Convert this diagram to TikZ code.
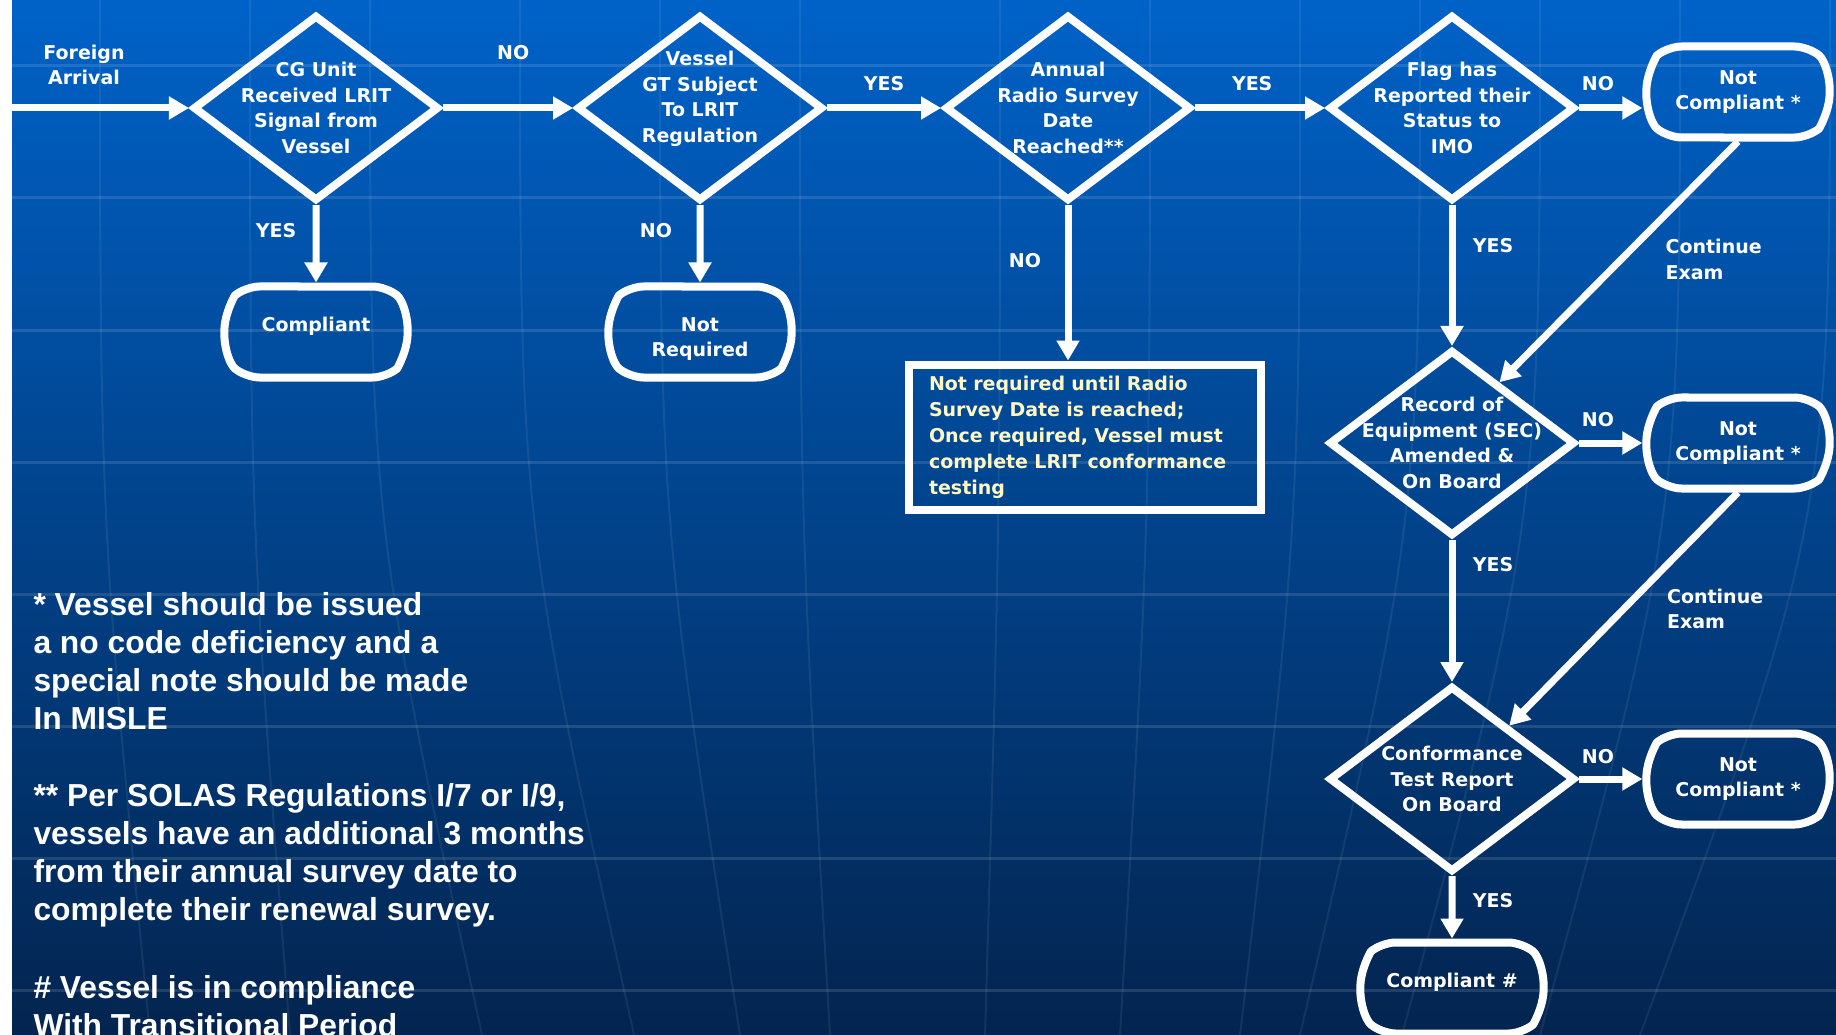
\documentclass[tikz,border=0pt]{standalone}
\usepackage{fontspec}
\setmainfont{DejaVu Sans}
\newfontfamily\footfont{Liberation Sans}
\usepackage{tikz}
\usetikzlibrary{arrows.meta,shapes.geometric,shapes.misc,positioning}

\definecolor{bgtop}{HTML}{0062C8}
\definecolor{bgmid}{HTML}{00479C}
\definecolor{bgbot}{HTML}{03244F}
\definecolor{notetext}{HTML}{FFF8C4}

\newcommand{\chartfont}{\fontsize{19pt}{25.5pt}\selectfont\bfseries}
\newcommand{\notefontsize}{\fontsize{19pt}{26pt}\selectfont\bfseries}
\newcommand{\footfontsize}{\footfont\fontsize{31.8pt}{38pt}\selectfont\bfseries}

\begin{document}
\begin{tikzpicture}[x=1pt,y=-1pt,->,>={Triangle[length=20pt,width=22pt]},
                    white,line width=7pt,node distance=384pt,
                    decision/.style={diamond,draw=white,line width=8pt,
                      minimum width=246pt,minimum height=186pt,inner sep=-30pt,
                      align=center,text=white,font=\chartfont},
                    terminal/.style={rounded rectangle,rounded rectangle arc length=100,
                      rounded corners=14pt,line join=round,
                      draw=white,line width=8pt,minimum width=190pt,minimum height=91pt,
                      align=center,text=white,font=\chartfont},
                    notebox/.style={rectangle,draw=white,line width=8pt,
                      minimum width=352pt,minimum height=145pt,inner xsep=20pt,
                      text width=312pt,align=left,text=notetext,font=\notefontsize},
                    answer/.style={text=white,font=\chartfont,inner sep=0pt,
                      text height=14pt,text depth=0pt},
                    remark/.style={text=white,font=\chartfont,inner sep=0pt,align=left},
                    footnote/.style={anchor=north west,align=left,text=white,
                      font=\footfontsize,inner sep=0pt}]
  \useasboundingbox (0,0) rectangle (1836,1035);
  \clip (0,0) rectangle (1836,1035);

  % background
  \shade[-,top color=bgtop,middle color=bgmid,bottom color=bgbot] (0,0) rectangle (1836,1035);
  \foreach \mt/\mb in {100/150,250/290,370/482,520/634,660/740,800/830,1000/985,
                       1150/1120,1300/1240,1420/1300,1540/1402,1680/1540,1830/1640}
    \draw[-,line width=2pt,white,opacity=.07] (\mt,0) .. controls (\mt,520) .. (\mb,1035);
  \foreach \gy in {66,198,...,990}
    \draw[-,line width=3pt,white,opacity=.12] (12,\gy) -- (1836,\gy);
  \fill[-,white] (0,0) rectangle (12,1035);

  \node[decision] (d1) at (316,108) {CG Unit\\Received LRIT\\Signal from\\Vessel};
  \node[decision,text depth=22pt] (d2) [right of=d1] {Vessel\\GT Subject\\To LRIT\\Regulation};
  \node[decision] (d3) [right of=d2,node distance=368pt] {Annual\\Radio Survey\\Date\\Reached**};
  \node[decision] (d4) [right of=d3] {Flag has\\Reported their\\Status to\\IMO};
  \node[decision] (d5) [below of=d4,node distance=335pt] {Record of\\Equipment (SEC)\\Amended \&\\On Board};
  \node[decision] (d6) [below of=d5,node distance=336pt] {Conformance\\Test Report\\On Board};

  \node[terminal,text depth=16pt] (comp) [below of=d1,node distance=224pt] {Compliant};
  \node[terminal,text height=53pt] (notreq) [below of=d2,node distance=224pt] {Not\\Required};
  \node[terminal] (nc1) at (1738,92) {Not\\Compliant *};
  \node[terminal] (nc2)    [right of=d5,node distance=286pt] {Not\\Compliant *};
  \node[terminal] (nc3)    [right of=d6,node distance=286pt] {Not\\Compliant *};
  \node[terminal,text depth=14.5pt] (compok) [below of=d6,node distance=209pt] {Compliant \#};
  \node[notebox] (wait) at (1085,437) {Not required until Radio\\Survey Date is reached;\\Once required, Vessel must\\complete LRIT conformance\\testing};

  \node[remark,align=center] (arrival) at (84,65) {Foreign\\Arrival};
  \node[footnote] (star)  at (30,589) {* Vessel should be issued\\a no code deficiency and a\\special note should be made\\In MISLE};
  \node[footnote] (dstar) at (30,780) {** Per SOLAS Regulations I/7 or I/9,\\vessels have an additional 3 months\\from their annual survey date to\\complete their renewal survey.};
  \node[footnote] (hash)  at (30,972) {\# Vessel is in compliance\\With Transitional Period};

  \coordinate (start) at (12,108);
  \path (start) edge (d1)
        (d1) edge node[answer,pos=.54,yshift=55pt] {NO} (d2)
        (d1) edge node[answer,pos=.33,xshift=-40pt] {YES} (comp)
        (d2) edge node[answer,pos=.33,xshift=-44pt] {NO} (notreq)
        (d2) edge node[answer,yshift=24pt] {YES} (d3)
        (d3) edge node[answer,pos=.44,yshift=24pt] {YES} (d4)
        (d4.east) edge node[answer,pos=.3,yshift=24pt] {NO} (d4.east -| nc1.west)
        (d3) edge node[answer,pos=.36,xshift=-43pt] {NO} (d3.south |- wait.north)
        (d4) edge node[answer,pos=.29,xshift=41pt] {YES} (d5)
        (nc1.south) edge node[remark,anchor=west,pos=.49,xshift=41pt] {Continue\\Exam} (d5.52)
        (d5) edge node[answer,pos=.3,yshift=24pt] {NO} (nc2)
        (d5) edge node[answer,pos=.17,xshift=41pt] {YES} (d6)
        (nc2.south) edge node[remark,anchor=west,pos=.5,xshift=40pt] {Continue\\Exam} (d6.43)
        (d6) edge node[answer,pos=.3,yshift=23pt] {NO} (nc3)
        (d6) edge node[answer,pos=.39,xshift=41pt] {YES} (compok);
\end{tikzpicture}
\end{document}
